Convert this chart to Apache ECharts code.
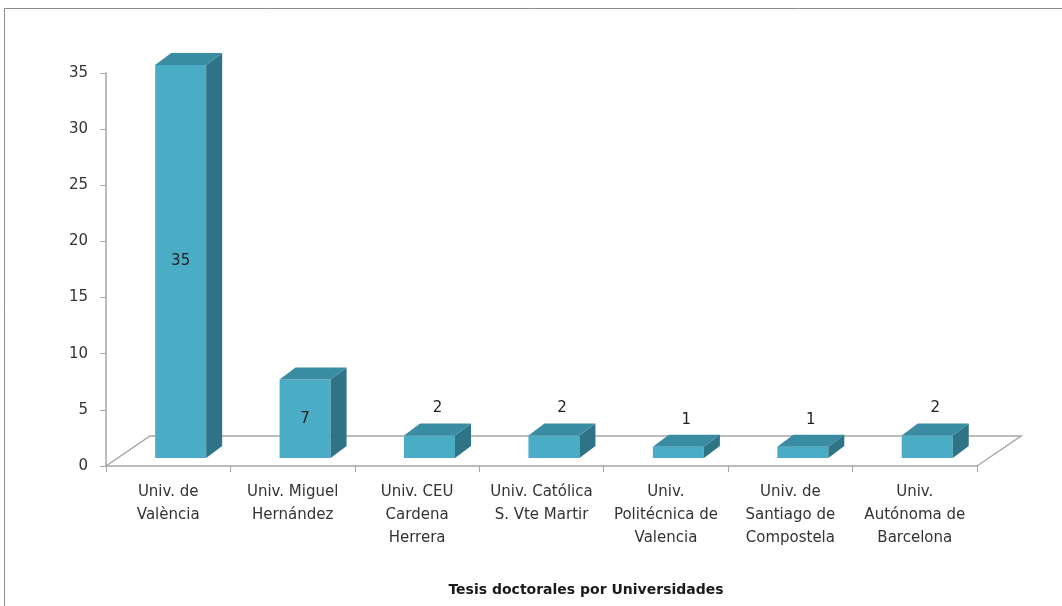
<!DOCTYPE html>
<html>
<head>
<meta charset="utf-8">
<script src="https://cdn.jsdelivr.net/npm/echarts@6/dist/echarts.min.js"></script>
<style>
    html, body { margin: 0; padding: 0; background: #fff; }
    #chart { width: 1062px; height: 606px; }
</style>
</head>
<body>
<div id="chart"></div>
<script>
// universidades y número de tesis
var universidades = [
    'Univ. de\nValència',
    'Univ. Miguel\nHernández',
    'Univ. CEU\nCardena\nHerrera',
    'Univ. Católica\nS. Vte Martir',
    'Univ.\nPolitécnica de\nValencia',
    'Univ. de\nSantiago de\nCompostela',
    'Univ.\nAutónoma de\nBarcelona'
];
var tesis = [35, 7, 2, 2, 1, 1, 2];
var yMin = 0, yMax = 35, yStep = 5;
var titulo = 'Tesis doctorales por Universidades';

var myChart = echarts.init(document.getElementById('chart'));

// suelo 3D (paralelogramo gris)
function renderFloor(params, api) {
    var cs = params.coordSys;
    var bottom = cs.y + cs.height;
    return {
        type: 'polyline',
        shape: {
            points: [
                [cs.x, bottom],
                [cs.x + 44, bottom - 30],
                [cs.x + cs.width + 44, bottom - 30],
                [cs.x + cs.width, bottom]
            ]
        },
        style: { stroke: '#a6a6a6', lineWidth: 1.5, fill: null }
    };
}

// barra 3D: frente, lateral, tapa + etiqueta
function renderBar(params, api) {
    var i = api.value(0);
    var v = api.value(1);
    var base = api.coord([i, 0]);
    var top = api.coord([i, v]);
    var band = api.size([1, 0])[0];
    var w = band * 0.41;
    var cx = base[0] + band * 0.1;
    var x0 = cx - w / 2, x1 = cx + w / 2;
    var yb = base[1] - 8, yt = top[1] - 8;
    var dx = 16, dy = 12;
    var label;
    if (v >= 5) {
        label = { x: cx, y: (yt + yb) / 2 };
    } else {
        label = { x: cx + dx / 2, y: yt - dy - 15 };
    }
    return {
        type: 'group',
        children: [
            {
                type: 'rect',
                shape: { x: x0, y: yt, width: w, height: yb - yt },
                style: { fill: '#4bacc6' }
            },
            {
                type: 'polygon',
                shape: { points: [[x1, yb], [x1 + dx, yb - dy], [x1 + dx, yt - dy], [x1, yt]] },
                style: { fill: '#2e7486' }
            },
            {
                type: 'polygon',
                shape: { points: [[x0, yt], [x0 + dx, yt - dy], [x1 + dx, yt - dy], [x1, yt]] },
                style: { fill: '#3a8ca3' }
            },
            {
                type: 'text',
                x: label.x,
                y: label.y,
                style: {
                    text: String(v),
                    fill: '#1f1f1f',
                    font: '15px "DejaVu Sans"',
                    align: 'center',
                    verticalAlign: 'middle'
                }
            }
        ]
    };
}

var option = {
    animation: false,
    textStyle: { fontFamily: 'DejaVu Sans' },
    grid: { left: 106, right: 85, top: 73, bottom: 140 },
    graphic: [
        {
            type: 'rect',
            shape: { x: 4.5, y: 8.5, width: 1100, height: 700 },
            style: { fill: null, stroke: '#8c8c8c', lineWidth: 1 },
            silent: true
        },
        {
            type: 'text',
            x: 586,
            y: 590,
            style: {
                text: titulo,
                font: 'bold 14px "DejaVu Sans"',
                fill: '#1a1a1a',
                align: 'center',
                verticalAlign: 'middle'
            }
        }
    ],
    xAxis: {
        type: 'category',
        data: universidades,
        axisLine: { lineStyle: { color: '#a6a6a6', width: 1.5 } },
        axisTick: { show: true, length: 6, lineStyle: { color: '#a6a6a6' } },
        axisLabel: {
            interval: 0,
            color: '#333333',
            fontSize: 15,
            lineHeight: 23,
            margin: 15
        }
    },
    yAxis: {
        type: 'value',
        min: yMin,
        max: yMax,
        interval: yStep,
        axisLine: { show: true, lineStyle: { color: '#a6a6a6', width: 1.5 } },
        axisTick: { show: true, length: 6, lineStyle: { color: '#a6a6a6' } },
        splitLine: { show: false },
        axisLabel: { color: '#333333', fontSize: 15, margin: 18 }
    },
    series: [
        {
            type: 'custom',
            renderItem: renderFloor,
            data: [[0, 0]],
            silent: true
        },
        {
            type: 'custom',
            renderItem: renderBar,
            encode: { x: 0, y: 1 },
            data: tesis.map(function (v, i) { return [i, v]; })
        }
    ]
};
myChart.setOption(option);
</script>
</body>
</html>
